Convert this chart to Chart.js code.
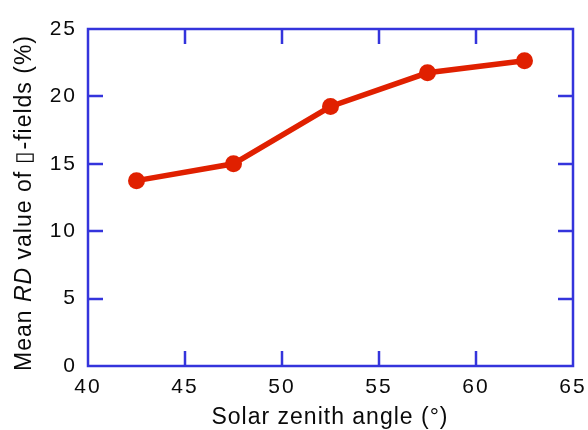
<!DOCTYPE html>
<html>
<head>
<meta charset="utf-8">
<script src="https://cdn.jsdelivr.net/npm/chart.js@4/dist/chart.umd.min.js"></script>
<style>
  html, body { margin: 0; padding: 0; background: #fff; }
  #wrap { width: 588px; height: 430px; }
</style>
</head>
<body>
<div id="wrap"><canvas id="rdChart" width="588" height="430"></canvas></div>
<script>
const zenithAngles = [42.5, 47.5, 52.5, 57.5, 62.5];
const meanRD = [13.75, 15.0, 19.25, 21.75, 22.65];
const xTicks = [40, 45, 50, 55, 60, 65];
const yTicks = [0, 5, 10, 15, 20, 25];

const axisBlue = '#3434dc';
const lineRed = '#e02000';
const font = 'Liberation Sans, Arial, sans-serif';

// frame, inward ticks on all four sides, and the axis titles
const framePlugin = {
  id: 'frame',
  beforeDraw(chart) {
    chart.ctx.letterSpacing = '2px';
  },
  beforeDatasetsDraw(chart) {
    const { ctx, chartArea: a, scales } = chart;
    const len = 15;
    ctx.save();
    ctx.strokeStyle = axisBlue;
    ctx.lineWidth = 2.5;
    ctx.strokeRect(a.left, a.top, a.right - a.left, a.bottom - a.top);
    ctx.beginPath();
    xTicks.slice(1, -1).forEach(v => {
      const px = Math.round(scales.x.getPixelForValue(v));
      ctx.moveTo(px, a.bottom); ctx.lineTo(px, a.bottom - len);
      ctx.moveTo(px, a.top); ctx.lineTo(px, a.top + len);
    });
    yTicks.slice(1, -1).forEach(v => {
      const py = Math.round(scales.y.getPixelForValue(v));
      ctx.moveTo(a.left, py); ctx.lineTo(a.left + len, py);
      ctx.moveTo(a.right, py); ctx.lineTo(a.right - len, py);
    });
    ctx.stroke();
    ctx.restore();
  },
  afterDraw(chart) {
    const { ctx } = chart;
    ctx.save();
    ctx.letterSpacing = '1px';
    ctx.fillStyle = '#0a0a0a';
    ctx.textBaseline = 'middle';
    ctx.font = '23px ' + font;
    ctx.textAlign = 'center';
    ctx.fillText('Solar zenith angle (°)', 330, 418);

    // y title with italic RD
    ctx.translate(25, 203);
    ctx.rotate(-Math.PI / 2);
    const parts = [
      ['Mean ', '23px ' + font],
      ['RD', 'italic 23px ' + font],
      [' value of \u25AF-fields (%)', '23px ' + font]
    ];
    let total = 0;
    parts.forEach(p => { ctx.font = p[1]; total += ctx.measureText(p[0]).width; });
    let x = -total / 2;
    ctx.textAlign = 'left';
    parts.forEach(p => {
      ctx.font = p[1];
      ctx.fillText(p[0], x, 0);
      x += ctx.measureText(p[0]).width;
    });
    ctx.restore();
  }
};

const chart = new Chart(document.getElementById('rdChart').getContext('2d'), {
  type: 'line',
  data: {
    datasets: [{
      data: zenithAngles.map((x, i) => ({ x: x, y: meanRD[i] })),
      borderColor: lineRed,
      backgroundColor: lineRed,
      borderWidth: 5.5,
      pointRadius: 8.5,
      pointHoverRadius: 8.5,
      pointBorderWidth: 0,
      tension: 0
    }]
  },
  options: {
    responsive: false,
    animation: false,
    layout: { padding: { top: 29, right: 15, left: 0, bottom: 0 } },
    plugins: {
      legend: { display: false },
      tooltip: { enabled: false }
    },
    scales: {
      x: {
        type: 'linear',
        min: 40,
        max: 65,
        afterBuildTicks: s => { s.ticks = xTicks.map(v => ({ value: v })); },
        afterFit: s => { s.height = 430 - 29 - 337; s.paddingLeft = 0; s.paddingRight = 0; },
        grid: { display: false, drawTicks: false },
        border: { display: false },
        ticks: { color: '#0a0a0a', padding: 9, font: { family: font, size: 21 }, maxRotation: 0 }
      },
      y: {
        min: 0,
        max: 25,
        afterBuildTicks: s => { s.ticks = yTicks.map(v => ({ value: v })); },
        afterFit: s => { s.width = 88; s.paddingTop = 0; s.paddingBottom = 0; },
        grid: { display: false, drawTicks: false },
        border: { display: false },
        ticks: { color: '#0a0a0a', padding: 11, font: { family: font, size: 21 } }
      }
    }
  },
  plugins: [framePlugin]
});
</script>
</body>
</html>
